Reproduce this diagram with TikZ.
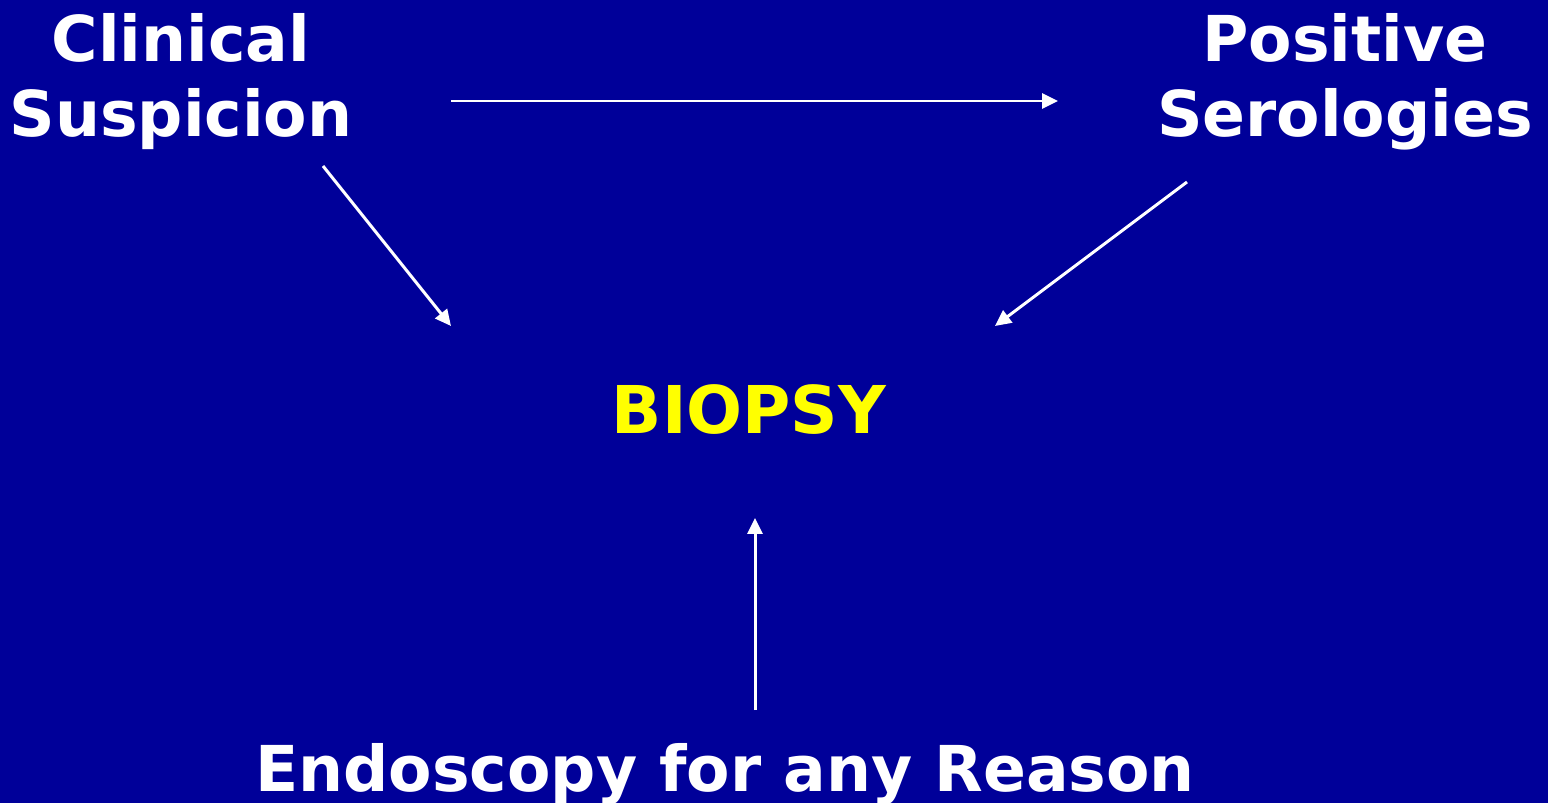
\documentclass[tikz,border=0pt]{standalone}
\usepackage{fontspec}
\setmainfont{DejaVu Sans}
\usetikzlibrary{arrows.meta,positioning}
\definecolor{slidebg}{HTML}{000099}
\definecolor{hilite}{HTML}{FFFF00}

\tikzset{
  label/.style={text=white,font=\fontsize{36}{43}\selectfont\bfseries,align=center,inner sep=0pt,anchor=base},
  flow/.style={draw=white,line width=1.7pt,-{Triangle[length=0.32cm,width=0.3cm]}}
}

\begin{document}
\begin{tikzpicture}[x=0.02cm,y=-0.02cm]
  \fill[slidebg] (0,0) rectangle (1548,803);
  \useasboundingbox (0,0) rectangle (1548,803);

  \node[label] (clinical) at (181,137) {Clinical\\Suspicion};
  \node[label] (serology) at (1345,137) {Positive\\Serologies};
  \node[label,text=hilite,font=\fontsize{37.5}{43}\selectfont\bfseries] (biopsy) at (749,434) {BIOPSY};
  \node[label] (endo) at (725,791) {Endoscopy for any Reason};

  % free ends of the arrows
  \coordinate (cs) at (451,101);
  \coordinate (ps) at (1058,101);
  \coordinate (ca) at (323,166);
  \coordinate (cb) at (451,326);
  \coordinate (pa) at (1187,182);
  \coordinate (pb) at (995,326);
  \coordinate (ea) at (755,710);
  \coordinate (eb) at (755,518);

  \draw[flow] (cs) -- (ps);
  \draw[flow] (ca) -- (cb);
  \draw[flow] (pa) -- (pb);
  \draw[flow] (ea) -- (eb);
\end{tikzpicture}
\end{document}
